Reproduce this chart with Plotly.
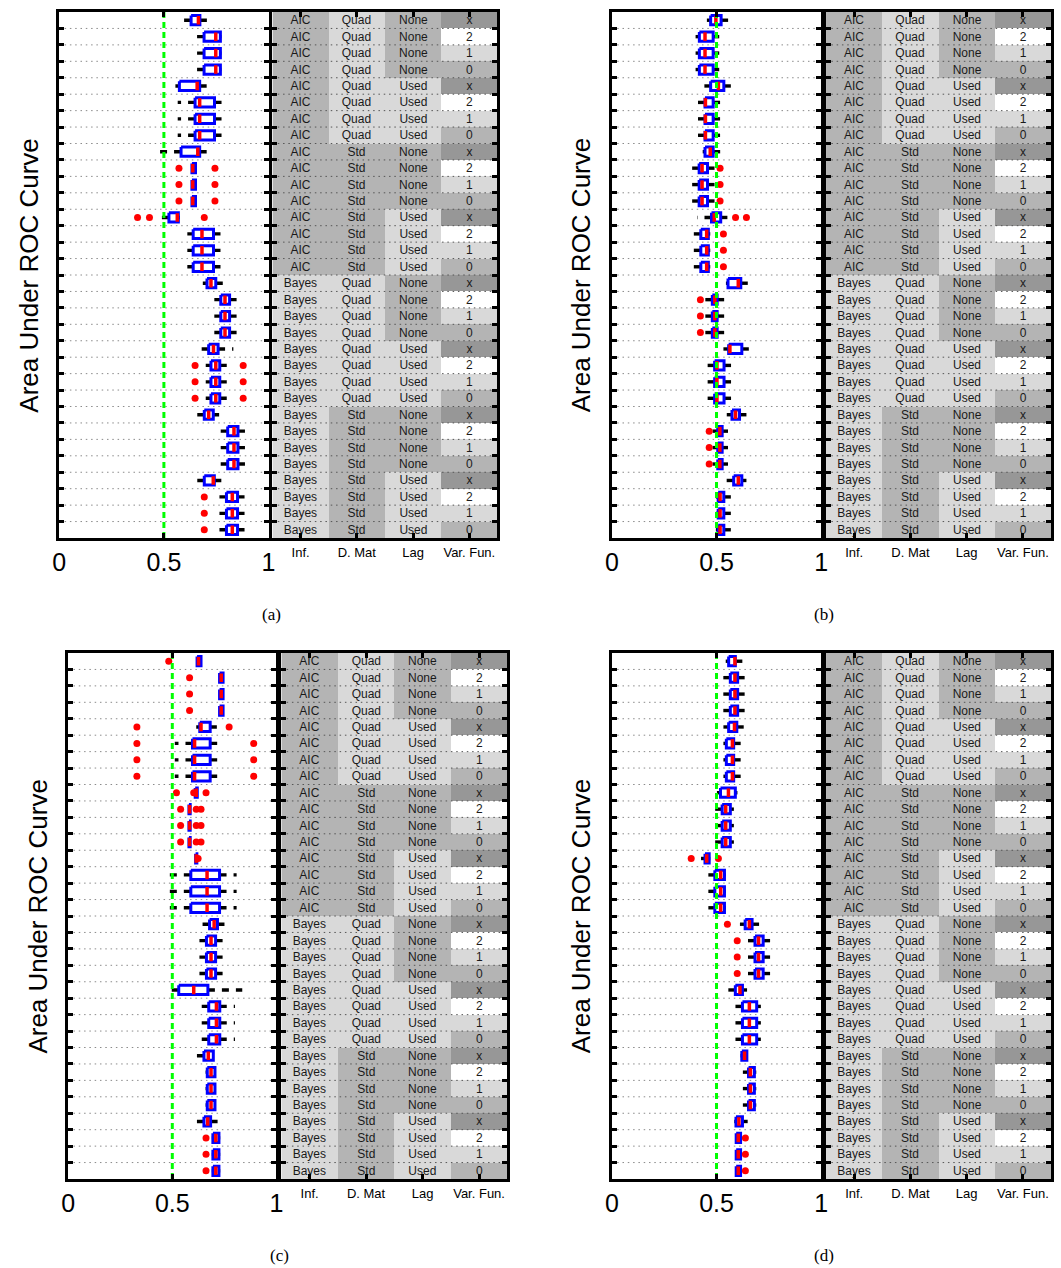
import plotly.graph_objects as go

W, H = 1061, 1268
ROWS = list(range(1, 33))

# ---------------- table (factor design) ----------------
col_names = ["Inf.", "D. Mat", "Lag", "Var. Fun."]
inf_labels = ["AIC"] * 16 + ["Bayes"] * 16
dmat_labels = (["Quad"] * 8 + ["Std"] * 8) * 2
lag_labels = (["None"] * 4 + ["Used"] * 4) * 4
var_labels = ["x", "2", "1", "0"] * 8

# gray level per label (0 white, 1 light, 2 medium, 3 dark)
level_of = {"AIC": 2, "Bayes": 1, "Quad": 1, "Std": 2, "None": 2, "Used": 1,
            "x": 3, "2": 0, "1": 1, "0": 2}
gray_scale = [[0.0, "#ffffff"], [1 / 3, "#d9d9d9"], [2 / 3, "#b4b4b4"], [1.0, "#979797"]]

# ---------------- panel (a) ----------------
a_wlo = [.568, .630, .630, .630, .555, .566, .566, .566, .478, .634, .634, .634, .458, .612, .612, .612,
         .686, .741, .741, .741, .665, .700, .700, .700, .634, .752, .752, .752, .654, .733, .733, .733]
a_q1 = [.630, .692, .692, .692, .574, .649, .649, .649, .582, .634, .634, .634, .524, .640, .640, .640,
        .706, .772, .772, .772, .714, .725, .725, .725, .693, .805, .805, .805, .693, .799, .799, .799]
a_med = [.665, .748, .748, .748, .659, .671, .671, .671, .662, .638, .638, .638, .564, .682, .682, .682,
         .725, .792, .792, .792, .737, .748, .748, .748, .714, .835, .835, .835, .736, .827, .827, .827]
a_q3 = [.672, .770, .770, .770, .671, .742, .742, .742, .671, .651, .651, .651, .569, .737, .737, .737,
        .748, .814, .814, .814, .759, .767, .767, .767, .736, .854, .854, .854, .741, .852, .852, .852]
a_whi = [.712, .775, .775, .775, .712, .777, .777, .777, .722, .651, .651, .651, .575, .777, .777, .777,
         .788, .854, .854, .854, .832, .819, .819, .819, .764, .895, .895, .895, .777, .909, .909, .909]
a_out = {10: [.572, .744], 11: [.572, .744], 12: [.572, .744], 13: [.374, .431, .693],
         22: [.649, .879], 23: [.649, .879], 24: [.649, .879], 30: [.693], 31: [.693], 32: [.693]}

# ---------------- panel (b) ----------------
b_wlo = [.454, .400, .400, .400, .442, .407, .407, .407, .434, .379, .379, .379, .407, .379, .379, .379,
         .545, .442, .442, .442, .533, .439, .439, .439, .549, .481, .481, .481, .544, .497, .497, .497]
b_q1 = [.472, .418, .418, .418, .472, .445, .445, .445, .445, .417, .417, .417, .476, .425, .425, .425,
        .555, .480, .480, .480, .558, .491, .491, .491, .574, .506, .506, .506, .582, .508, .508, .508]
b_med = [.497, .445, .445, .445, .509, .447, .447, .447, .470, .431, .431, .431, .489, .453, .453, .453,
         .604, .492, .492, .492, .564, .502, .502, .502, .591, .516, .516, .516, .604, .517, .517, .517]
b_q3 = [.522, .484, .484, .484, .535, .484, .484, .484, .484, .457, .457, .457, .520, .461, .461, .461,
        .616, .503, .503, .503, .621, .536, .536, .536, .610, .527, .527, .527, .621, .535, .535, .535]
b_whi = [.575, .513, .513, .513, .583, .517, .517, .517, .536, .505, .505, .505, .552, .470, .470, .470,
         .659, .544, .544, .544, .667, .580, .580, .580, .643, .555, .555, .555, .643, .572, .572, .572]
b_out = {10: [.517], 11: [.517], 12: [.517], 13: [.591, .643], 14: [.533], 15: [.533], 16: [.533],
         18: [.423], 19: [.423], 20: [.423], 26: [.465], 27: [.465], 28: [.465]}

# ---------------- panel (c) ----------------
c_wlo = [.619, .727, .727, .727, .615, .512, .512, .512, .610, .580, .580, .580, .612, .469, .469, .469,
         .634, .615, .615, .615, .480, .622, .622, .622, .611, .660, .660, .660, .603, .690, .690, .690]
c_q1 = [.619, .727, .727, .727, .632, .597, .597, .597, .610, .580, .580, .580, .612, .589, .589, .589,
        .679, .664, .664, .664, .531, .675, .675, .675, .652, .668, .668, .668, .652, .695, .695, .695]
c_med = [.626, .735, .735, .735, .638, .607, .607, .607, .615, .583, .583, .583, .615, .667, .667, .667,
         .701, .686, .686, .686, .603, .712, .712, .712, .673, .686, .686, .686, .670, .709, .709, .709]
c_q3 = [.638, .744, .744, .744, .682, .682, .682, .682, .620, .586, .586, .586, .618, .727, .727, .727,
        .717, .708, .708, .708, .671, .728, .728, .728, .697, .705, .705, .705, .684, .724, .724, .724]
c_whi = [.638, .744, .744, .744, .714, .733, .733, .733, .620, .586, .586, .586, .618, .809, .809, .809,
         .757, .757, .757, .757, .836, .801, .801, .801, .700, .710, .710, .710, .722, .730, .730, .730]
c_out = {1: [.483], 2: [.583], 3: [.583], 4: [.583], 5: [.330, .773], 6: [.330, .891], 7: [.330, .891],
         8: [.330, .891], 9: [.520, .603, .662], 10: [.540, .615, .638], 11: [.540, .615, .638],
         12: [.540, .615, .638], 13: [.624], 30: [.662], 31: [.662], 32: [.662]}

# ---------------- panel (d) ----------------
d_wlo = [.544, .520, .520, .520, .533, .533, .533, .533, .502, .481, .481, .481, .426, .461, .461, .461,
         .612, .646, .646, .646, .536, .580, .580, .580, .615, .626, .626, .626, .585, .590, .590, .590]
d_q1 = [.558, .566, .566, .566, .558, .547, .547, .547, .519, .527, .527, .527, .445, .492, .492, .492,
        .637, .684, .684, .684, .590, .624, .624, .624, .621, .653, .653, .653, .593, .594, .594, .594]
d_med = [.588, .588, .588, .588, .586, .576, .576, .576, .557, .544, .544, .544, .453, .520, .520, .520,
         .657, .701, .701, .701, .612, .657, .657, .657, .634, .662, .662, .662, .607, .604, .604, .604]
d_q3 = [.590, .601, .601, .601, .597, .582, .582, .582, .590, .566, .566, .566, .465, .538, .538, .538,
        .670, .723, .723, .723, .624, .692, .692, .692, .645, .681, .681, .681, .624, .615, .615, .615]
d_whi = [.627, .638, .638, .638, .630, .630, .630, .630, .600, .583, .583, .583, .470, .545, .545, .545,
         .706, .756, .756, .756, .646, .712, .712, .712, .650, .690, .690, .690, .649, .620, .620, .620]
d_out = {13: [.379, .509], 17: [.552], 18: [.599], 19: [.599], 20: [.599], 30: [.638], 31: [.638], 32: [.638]}

panels = [
    dict(tag="(a)", wlo=a_wlo, q1=a_q1, med=a_med, q3=a_q3, whi=a_whi, out=a_out,
         px=(53, 265), py=(12, 538), tx=(269, 497)),
    dict(tag="(b)", wlo=b_wlo, q1=b_q1, med=b_med, q3=b_q3, whi=b_whi, out=b_out,
         px=(613, 825), py=(12, 538), tx=(830, 1058)),
    dict(tag="(c)", wlo=c_wlo, q1=c_q1, med=c_med, q3=c_q3, whi=c_whi, out=c_out,
         px=(62, 273), py=(653, 1179), tx=(278, 507)),
    dict(tag="(d)", wlo=d_wlo, q1=d_q1, med=d_med, q3=d_q3, whi=d_whi, out=d_out,
         px=(613, 825), py=(653, 1179), tx=(830, 1058)),
]

FONT = "Liberation Sans, Arial, Helvetica, sans-serif"
BOX_H = 0.28
MED_H = 0.26
boundaries = [r + 0.5 for r in ROWS[:-1]]

table_cols = [inf_labels, dmat_labels, lag_labels, var_labels]
z_table = [[level_of[table_cols[c][r]] for c in range(4)] for r in range(32)]
t_table = [[table_cols[c][r] for c in range(4)] for r in range(32)]

fig = go.Figure()
layout = {}
annotations = []


def nm(i, ax):
    return ax if i == 1 else f"{ax}{i}"


for p, P in enumerate(panels):
    ip, it = 2 * p + 1, 2 * p + 2
    xp, yp, xt, yt = nm(ip, "x"), nm(ip, "y"), nm(it, "x"), nm(it, "y")

    # dotted row separators in plot
    gx, gy = [], []
    for b in boundaries:
        gx += [0, 1, None]
        gy += [b, b, None]
    fig.add_trace(go.Scatter(x=gx, y=gy, mode="lines", xaxis=xp, yaxis=yp, hoverinfo="skip",
                             line=dict(color="#8a8a8a", width=1, dash="1.5px,3.8px")))

    # whiskers
    wx, wy = [], []
    for r, lo, a, b, hi in zip(ROWS, P["wlo"], P["q1"], P["q3"], P["whi"]):
        if a - lo > 0.003:
            wx += [a, lo, None]
            wy += [r, r, None]
        if hi - b > 0.003:
            wx += [b, hi, None]
            wy += [r, r, None]
    fig.add_trace(go.Scatter(x=wx, y=wy, mode="lines", xaxis=xp, yaxis=yp, hoverinfo="skip",
                             line=dict(color="black", width=3.4, dash="7px,7px")))

    # boxes
    bx, by = [], []
    for r, a, b in zip(ROWS, P["q1"], P["q3"]):
        bx += [a, b, b, a, a, None]
        by += [r - BOX_H, r - BOX_H, r + BOX_H, r + BOX_H, r - BOX_H, None]
    fig.add_trace(go.Scatter(x=bx, y=by, mode="lines", xaxis=xp, yaxis=yp, hoverinfo="skip",
                             line=dict(color="#0000ff", width=3)))

    # medians
    mx, my = [], []
    for r, m in zip(ROWS, P["med"]):
        mx += [m, m, None]
        my += [r - MED_H, r + MED_H, None]
    fig.add_trace(go.Scatter(x=mx, y=my, mode="lines", xaxis=xp, yaxis=yp, hoverinfo="skip",
                             line=dict(color="#ff0000", width=3.5)))

    # outliers
    ox, oy = [], []
    for r, vals in P["out"].items():
        for v in vals:
            ox.append(v)
            oy.append(r)
    fig.add_trace(go.Scatter(x=ox, y=oy, mode="markers", xaxis=xp, yaxis=yp, hoverinfo="skip",
                             marker=dict(color="#ff0000", size=7, symbol="circle", line=dict(width=0))))

    # chance line
    fig.add_trace(go.Scatter(x=[0.5, 0.5], y=[0.5, 32.5], mode="lines", xaxis=xp, yaxis=yp,
                             hoverinfo="skip", line=dict(color="#00ff00", width=3, dash="6px,4px")))

    # table
    fig.add_trace(go.Heatmap(z=z_table, x=[0, 1, 2, 3], y=ROWS, text=t_table, texttemplate="%{text}",
                             textfont=dict(size=12, color="#1a1a1a", family=FONT),
                             colorscale=gray_scale, zmin=0, zmax=3, showscale=False,
                             xaxis=xt, yaxis=yt, hoverinfo="skip"))
    tx_, ty_ = [], []
    for b in boundaries:
        tx_ += [-0.5, 3.5, None]
        ty_ += [b, b, None]
    fig.add_trace(go.Scatter(x=tx_, y=ty_, mode="lines", xaxis=xt, yaxis=yt, hoverinfo="skip",
                             line=dict(color="#555555", width=1, dash="1.5px,3.8px")))

    ydom = [1 - P["py"][1] / H, 1 - P["py"][0] / H]
    common = dict(showline=True, linewidth=3, linecolor="black", mirror="ticks", ticks="inside",
                  ticklen=5, tickwidth=2.5, tickcolor="black", showgrid=False, zeroline=False)
    layout[nm(ip, "xaxis")] = dict(domain=[P["px"][0] / W, P["px"][1] / W], range=[0, 1], anchor=yp,
                                   tickvals=[0, 0.5, 1], ticktext=["0", "0.5", "1"],
                                   tickfont=dict(size=25, family=FONT, color="black"), **common)
    layout[nm(ip, "yaxis")] = dict(domain=ydom, range=[32.5, 0.5], anchor=xp, tickvals=boundaries,
                                   showticklabels=False, **common)
    layout[nm(it, "xaxis")] = dict(domain=[P["tx"][0] / W, P["tx"][1] / W], range=[-0.5, 3.5], anchor=yt,
                                   tickvals=[0, 1, 2, 3], ticktext=col_names,
                                   tickfont=dict(size=13, family=FONT, color="black"), **common)
    layout[nm(it, "yaxis")] = dict(domain=ydom, range=[32.5, 0.5], anchor=xt, tickvals=boundaries,
                                   showticklabels=False, **common)

    # y title
    annotations.append(dict(text="Area Under ROC Curve", xref="paper", yref="paper",
                            x=(P["px"][0] - 31) / W, y=1 - (P["py"][0] + P["py"][1]) / 2 / H,
                            xanchor="center", yanchor="middle", textangle=-90, showarrow=False,
                            font=dict(size=26, family=FONT, color="black")))
    # caption
    annotations.append(dict(text=P["tag"], xref="paper", yref="paper",
                            x=(P["px"][1] + 3) / W, y=1 - (P["py"][1] + 76) / H,
                            xanchor="center", yanchor="middle", showarrow=False,
                            font=dict(size=17, family="Liberation Serif, DejaVu Serif, serif", color="black")))

fig.update_layout(width=W, height=H, margin=dict(l=0, r=0, t=0, b=0), showlegend=False,
                  paper_bgcolor="white", plot_bgcolor="white", annotations=annotations, **layout)

fig.write_html("out.html")
